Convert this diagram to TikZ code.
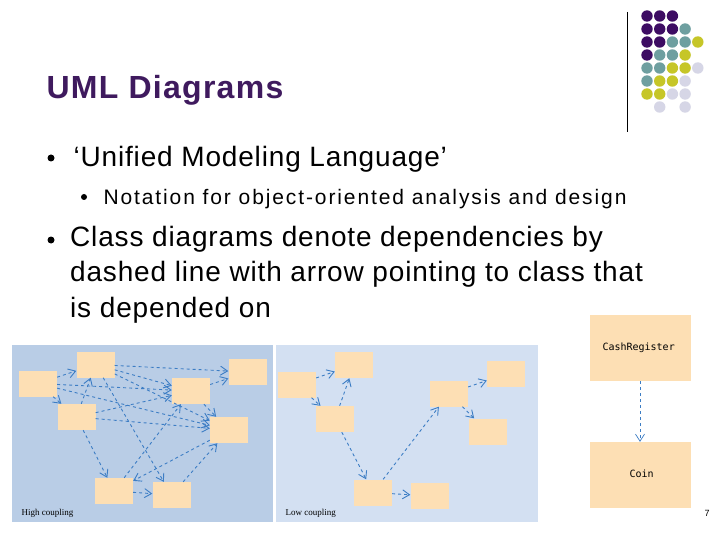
\documentclass[tikz,border=0pt]{standalone}
\usepackage{fontspec}
\setmainfont{Liberation Sans}
\setmonofont{DejaVu Sans Mono}
\newfontfamily\spaced[LetterSpace=3]{Liberation Sans}
\newfontfamily\spacedb[LetterSpace=9]{Liberation Sans}
\newfontfamily\spacedt[LetterSpace=4]{Liberation Sans}
\newfontfamily\lserif{Liberation Serif}
\usetikzlibrary{arrows.meta}
\definecolor{ttl}{HTML}{3F1A5E}
\definecolor{dP}{HTML}{3D0C63}
\definecolor{dT}{HTML}{6E9FA0}
\definecolor{dY}{HTML}{C6C628}
\definecolor{dL}{HTML}{D6D6E6}
\definecolor{dN}{HTML}{FFFFFF}
\definecolor{boxc}{HTML}{FDDFB4}
\definecolor{hib}{HTML}{B9CDE6}
\definecolor{lob}{HTML}{D3E0F2}
\definecolor{arr}{HTML}{3C7DC4}
\begin{document}
\begin{tikzpicture}[x=1pt,y=-1pt,
  cls/.style={fill=boxc,draw=none,inner sep=0,minimum width=38pt,minimum height=26pt},
  dep/.style={draw=arr,dashed,line width=0.9pt,-{Straight Barb[length=7pt,width=9pt]}},
  bul/.style={fill=black,circle,inner sep=0,minimum size=7pt}]
\useasboundingbox (0,0) rectangle (720,540);
\fill[white] (0,0) rectangle (720,540);
\node[anchor=base west,text=ttl,font=\spacedt\bfseries\fontsize{32}{36}\selectfont] (title) at (43,99) {UML Diagrams};
\draw[line width=0.8pt] (627,12) -- (627,132);
% dots
\foreach \r/\cols in {0/{P,P,P},1/{P,P,P,T},2/{P,P,T,T,Y},3/{P,T,T,Y},4/{T,T,Y,Y,L},5/{T,Y,Y,L},6/{Y,Y,L,L},7/{N,L,N,L}}{
  \foreach \c [count=\i from 0] in \cols {
    \fill[d\c] (647+12.7*\i,16+13*\r) circle (5.7pt);
  }}
\node[bul] (b1) at (51,158) {};
\node[anchor=base west,font=\spaced\fontsize{28}{30}\selectfont] (t1) at (70,167) {‘Unified Modeling Language’};
\node[bul,minimum size=6pt] (b2) at (84,197) {};
\node[anchor=base west,font=\spacedb\fontsize{21}{24}\selectfont] (t2) at (100,205) {Notation for object-oriented analysis and design};
\node[bul] (b3) at (51,240) {};
\node[anchor=north west,align=left,inner sep=0,font=\spaced\fontsize{28}{35.5}\selectfont] (t3) at (70,226) {Class diagrams denote dependencies by\\dashed line with arrow pointing to class that\\is depended on};
% panels
\fill[hib] (12,345) rectangle (273,522);
\fill[lob] (276,345) rectangle (538,522);
\node[cls] (A) at (38,383.5) {};
\node[cls] (B) at (95.5,364.5) {};
\node[cls] (C) at (76.5,417) {};
\node[cls] (D) at (191,391) {};
\node[cls] (E) at (247.5,372) {};
\node[cls] (F) at (229,430) {};
\node[cls] (G) at (114,491) {};
\node[cls] (H) at (171.5,495) {};
\node[anchor=base west,font=\lserif\fontsize{9}{10}\selectfont] (hl) at (18,515) {High coupling};
\foreach \a/\b in {A/B,A/C,A/D,A/F,B/E,B/D,B/H,B/F,C/B,C/D,C/F,C/G,G/H,F/G,G/D,H/F,D/E,D/F}
  \draw[dep] (\a) -- (\b);
\node[cls] (a) at (297,384.5) {};
\node[cls] (b) at (354,365) {};
\node[cls] (c) at (335,419) {};
\node[cls] (d) at (449,393.5) {};
\node[cls] (e) at (506,374) {};
\node[cls] (f) at (487.5,431.5) {};
\node[cls] (g) at (373,492.5) {};
\node[cls] (h) at (429.5,496) {};
\node[anchor=base west,font=\lserif\fontsize{9}{10}\selectfont] (ll) at (282,515) {Low coupling};
\foreach \p/\q in {a/b,a/c,c/b,c/g,g/d,d/e,d/f,g/h}
  \draw[dep] (\p) -- (\q);
% cash register
\node[fill=boxc,minimum width=101pt,minimum height=66pt,inner sep=0] (cr) at (640,348) {};
\node[anchor=west,font=\ttfamily\fontsize{10}{11}\selectfont] (crt) at (599,348) {CashRegister};
\node[fill=boxc,minimum width=101pt,minimum height=66pt,inner sep=0] (co) at (640,475) {};
\node[anchor=west,font=\ttfamily\fontsize{10}{11}\selectfont] (cot) at (626,474) {Coin};
\draw[dep,line width=0.7pt] (cr.south) -- (co.north);
\node[font=\fontsize{9}{10}\selectfont] (pg) at (707,513) {7};
\end{tikzpicture}
\end{document}
